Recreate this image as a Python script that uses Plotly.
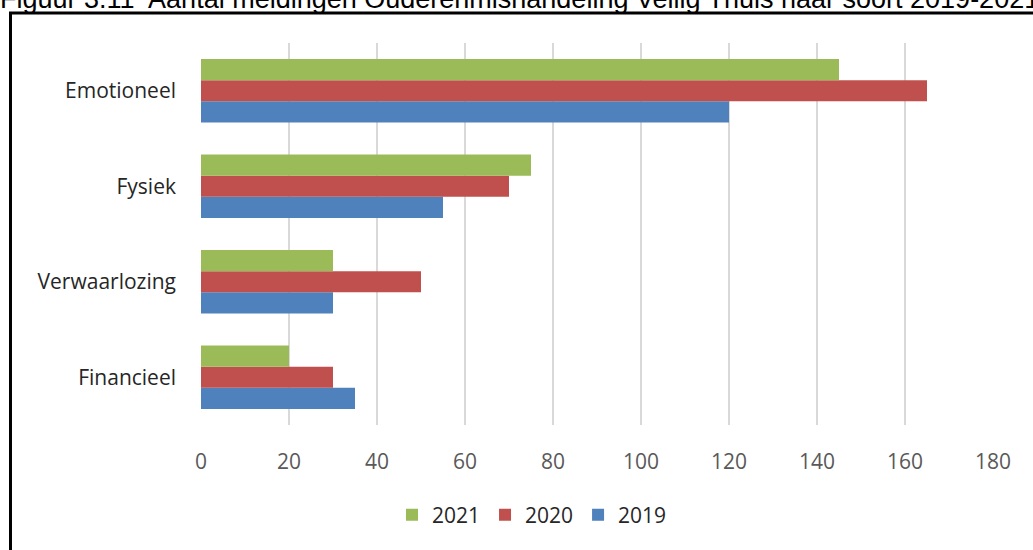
import plotly.graph_objects as go

# data
categories = ['Financieel', 'Verwaarlozing', 'Fysiek', 'Emotioneel']
years = ['2019', '2020', '2021']
values_2019 = [35, 30, 55, 120]
values_2020 = [30, 50, 70, 165]
values_2021 = [20, 30, 75, 145]
x_ticks = [0, 20, 40, 60, 80, 100, 120, 140, 160, 180]
title_text = 'Figuur 3.11  Aantal meldingen Ouderenmishandeling Veilig Thuis naar soort 2019-2021'

colors = {'2019': '#4F81BD', '2020': '#C0504D', '2021': '#9BBB59'}
series = {'2019': values_2019, '2020': values_2020, '2021': values_2021}

# plot area in pixels: x 201..993, y 43..425
PL, PT, PW, PH = 201, 43, 792, 382


def px(x):
    return (x - PL) / PW


def py(y):
    return (PT + PH - y) / PH


fig = go.Figure()
for year in years:
    fig.add_trace(go.Bar(y=categories, x=series[year], name=year, orientation='h',
                         marker=dict(color=colors[year], line=dict(width=0))))

fig.update_layout(
    width=1033, height=550,
    margin=dict(l=PL, r=1033 - PL - PW, t=PT, b=550 - PT - PH),
    paper_bgcolor='white', plot_bgcolor='white',
    barmode='group', bargap=0.335, bargroupgap=0,
    font=dict(family='Open Sans, sans-serif', color='#404040'),
    showlegend=True,
    legend=dict(orientation='h', traceorder='reversed', x=px(392), y=py(515),
                xanchor='left', yanchor='middle',
                font=dict(size=21, color='#262626'), itemwidth=30),
)
fig.update_xaxes(range=[0, 180], tickvals=x_ticks, showgrid=True, gridcolor='#D9D9D9',
                 gridwidth=2, zeroline=False, showline=False, ticks='',
                 tickfont=dict(size=21, color='#595959'), ticklabelstandoff=22,
                 fixedrange=True)
fig.update_yaxes(showgrid=False, showline=False, ticks='',
                 tickfont=dict(size=21, color='#262626'), ticklabelstandoff=24,
                 fixedrange=True)

# outer frame and the caption that is clipped at the top edge
fig.add_shape(type='rect', xref='paper', yref='paper',
              x0=px(10.5), x1=px(1080), y0=py(600), y1=py(13),
              line=dict(color='black', width=3), fillcolor='rgba(0,0,0,0)', layer='above')
fig.add_annotation(text=title_text, xref='paper', yref='paper',
                   x=px(-2), y=py(-1), xanchor='left', yanchor='middle',
                   showarrow=False,
                   font=dict(family='Liberation Sans, Arial', size=27, color='black'))

# the page has no body margin in the reference
fig.write_html('out.html', config={'displayModeBar': False},
               post_script="document.body.style.margin='0';")
